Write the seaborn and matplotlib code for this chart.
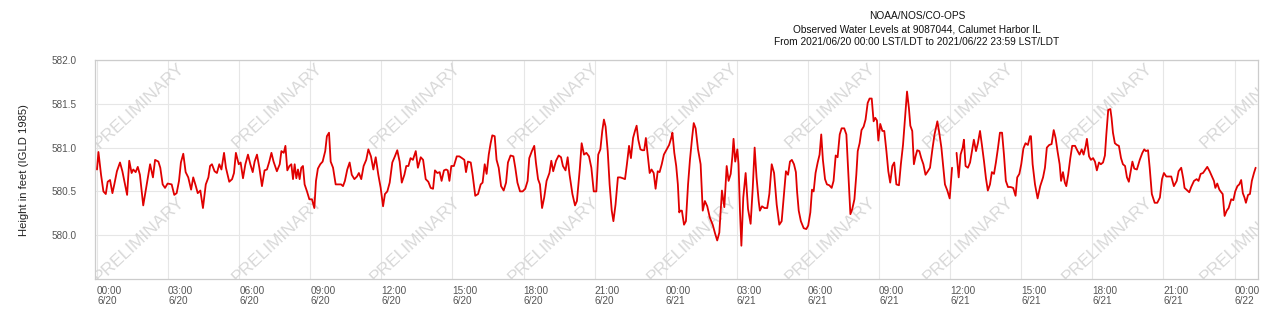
import numpy as np
import pandas as pd
import matplotlib
matplotlib.use("Agg")
import matplotlib.pyplot as plt
import seaborn as sns

# ---- data (hours since 2021-06-20 00:00 LST/LDT, water level in feet IGLD 1985) ----
hours = [
    0.00, 0.06, 0.17, 0.27, 0.37, 0.45, 0.55, 0.65, 0.73, 0.84, 0.97, 1.07, 1.18, 1.27, 1.36, 1.46,
    1.53, 1.63, 1.72, 1.81, 1.95, 2.10, 2.24, 2.36, 2.45, 2.59, 2.67, 2.77, 2.87, 2.98, 3.15, 3.26,
    3.36, 3.46, 3.54, 3.64, 3.74, 3.85, 3.97, 4.06, 4.16, 4.25, 4.36, 4.47, 4.59, 4.70, 4.77, 4.85,
    4.96, 5.06, 5.16, 5.25, 5.36, 5.44, 5.58, 5.70, 5.78, 5.86, 5.98, 6.06, 6.16, 6.26, 6.37, 6.47,
    6.57, 6.65, 6.75, 6.85, 6.96, 7.07, 7.17, 7.27, 7.36, 7.45, 7.59, 7.71, 7.78, 7.88, 7.95, 8.03,
    8.12, 8.20, 8.27, 8.34, 8.41, 8.48, 8.55, 8.62, 8.69, 8.76, 8.86, 8.96, 9.07, 9.17, 9.24, 9.32,
    9.42, 9.52, 9.63, 9.70, 9.79,
    9.86, 9.96, 10.07, 10.18, 10.30, 10.38, 10.46, 10.56, 10.66, 10.75, 10.86, 10.97, 11.05, 11.15,
    11.25, 11.36, 11.45, 11.56, 11.66, 11.76, 11.87, 11.97, 12.07, 12.15, 12.25, 12.35, 12.46, 12.57,
    12.67, 12.77, 12.86, 12.97, 13.05, 13.14, 13.23, 13.33, 13.45, 13.54, 13.66, 13.76, 13.87, 13.98,
    14.08, 14.18, 14.26, 14.36, 14.46, 14.54, 14.64, 14.73,
    14.80, 14.87, 14.95, 15.06, 15.18, 15.29, 15.40, 15.50, 15.57, 15.65, 15.77, 15.85, 15.96, 16.08,
    16.19, 16.27, 16.36, 16.44, 16.53, 16.61, 16.68, 16.78, 16.86, 16.95, 17.05, 17.16, 17.26, 17.34,
    17.45, 17.57, 17.65, 17.74, 17.85, 17.96, 18.07, 18.17, 18.24, 18.35, 18.45, 18.52, 18.61, 18.69,
    18.78, 18.87, 18.97, 19.09, 19.17, 19.25, 19.37, 19.48, 19.58, 19.66,
    19.77, 19.86, 19.94, 20.06, 20.17, 20.25, 20.37, 20.45, 20.55, 20.65, 20.76, 20.86, 20.96, 21.07,
    21.15, 21.24, 21.32, 21.39, 21.46, 21.55, 21.63, 21.72, 21.79, 21.88, 21.98, 22.08, 22.19, 22.28,
    22.36, 22.45, 22.53, 22.62, 22.70, 22.77, 22.84, 22.93, 23.01, 23.09, 23.16, 23.24, 23.32, 23.40,
    23.49, 23.57, 23.66, 23.74, 23.83, 23.92, 24.02, 24.14, 24.23, 24.28, 24.36, 24.44, 24.51, 24.57,
    24.60, 24.68, 24.77, 24.85, 24.94, 25.02, 25.11, 25.18, 25.26, 25.36, 25.47, 25.56, 25.65, 25.75,
    25.86, 25.98, 26.08, 26.17, 26.26, 26.37, 26.47, 26.57, 26.65, 26.74, 26.81, 26.86, 26.93, 27.02,
    27.07, 27.13, 27.19, 27.27, 27.37, 27.47, 27.58, 27.67, 27.75, 27.83, 27.92, 27.97, 28.06, 28.17,
    28.28, 28.37, 28.47, 28.57, 28.68, 28.79, 28.89, 28.99, 29.07, 29.16, 29.24, 29.32, 29.41, 29.49,
    29.54, 29.61, 29.70, 29.82, 29.93, 30.01, 30.10, 30.17, 30.24, 30.32, 30.41, 30.49, 30.56, 30.63,
    30.72, 30.80, 30.90, 31.00, 31.08, 31.17, 31.25, 31.34, 31.42, 31.53, 31.62, 31.70, 31.79, 31.87,
    31.96, 32.04, 32.10, 32.18, 32.26, 32.35, 32.43, 32.52, 32.60, 32.69, 32.77, 32.84, 32.91, 32.97,
    33.05, 33.14, 33.22, 33.31, 33.39, 33.47, 33.56, 33.64, 33.73, 33.84, 33.92, 34.01, 34.09, 34.18,
    34.26, 34.32, 34.40, 34.47,
    34.54, 34.61, 34.70, 34.78, 34.87, 34.96, 35.06, 35.15, 35.25, 35.34, 35.46, 35.54, 35.63, 35.71,
    35.78, 35.88, 35.98, 36.08, 36.17, 36.27, 36.36, 36.44, 36.53, 36.58, 36.65, 36.75, 36.84, 36.93,
    37.00, 37.09, 37.17, 37.26, 37.34, 37.43, 37.51, 37.59, 37.68, 37.76, 37.85, 37.93, 38.02, 38.10,
    38.19, 38.27, 38.35, 38.44, 38.55, 38.66, 38.76, 38.83, 38.92, 39.00, 39.09, 39.18, 39.28, 39.37,
    39.41, 39.48, 39.58, 39.69, 39.80, 39.92, 40.00, 40.08, 40.18, 40.28, 40.37, 40.45, 40.53, 40.62,
    40.68, 40.76, 40.84, 40.90, 40.98, 41.07, 41.15, 41.27, 41.38, 41.46, 41.55, 41.63, 41.72, 41.77,
    41.86, 41.94, 42.03, 42.11, 42.19, 42.28, 42.36, 42.45, 42.53, 42.59, 42.67, 42.76, 42.81, 42.87,
    42.95, 43.04, 43.12, 43.21, 43.29, 43.38, 43.46, 43.54, 43.63, 43.69, 43.77, 43.88, 44.00, 44.11,
    44.19, 44.26,
    44.35, 44.42, 44.51, 44.63, 44.74, 44.85, 44.94, 45.02, 45.12, 45.22, 45.33, 45.44, 45.56, 45.64,
    45.75, 45.84, 45.89, 46.01, 46.09, 46.17, 46.29, 46.40, 46.48, 46.57, 46.67, 46.77, 46.85, 46.95,
    47.05, 47.13, 47.19, 47.27, 47.36, 47.44, 47.50, 47.58, 47.67, 47.75, 47.86, 47.95, 48.03, 48.12,
    48.20, 48.28, 48.35, 48.42, 48.48, 48.57, 48.65, 48.73, 48.82, 48.89,
]

levels = [
    580.75, 580.95, 580.69, 580.50, 580.47, 580.61, 580.63, 580.48, 580.58, 580.73, 580.83, 580.73, 580.58, 580.46, 580.85, 580.71,
    580.75, 580.72, 580.78, 580.69, 580.34, 580.58, 580.81, 580.66, 580.86, 580.84, 580.77, 580.58, 580.54, 580.59, 580.58, 580.46,
    580.48, 580.62, 580.83, 580.93, 580.72, 580.66, 580.52, 580.66, 580.57, 580.48, 580.51, 580.31, 580.58, 580.66, 580.79, 580.81,
    580.73, 580.71, 580.81, 580.75, 580.94, 580.77, 580.61, 580.64, 580.71, 580.94, 580.81, 580.83, 580.65, 580.81, 580.92, 580.81,
    580.72, 580.84, 580.92, 580.77, 580.56, 580.74, 580.75, 580.84, 580.94, 580.84, 580.73, 580.81, 580.96, 580.94, 581.02, 580.74,
    580.79, 580.81, 580.64, 580.81, 580.65, 580.75, 580.64, 580.77, 580.79, 580.58, 580.50, 580.41, 580.41, 580.31, 580.62, 580.76,
    580.81, 580.84, 580.96, 581.13, 581.17,
    580.84, 580.77, 580.58, 580.58, 580.58, 580.56, 580.62, 580.75, 580.83, 580.69, 580.64, 580.67, 580.71, 580.64,
    580.79, 580.86, 580.98, 580.90, 580.75, 580.89, 580.69, 580.54, 580.33, 580.47, 580.50, 580.60, 580.83, 580.90,
    580.97, 580.84, 580.60, 580.69, 580.79, 580.79, 580.88, 580.86, 580.96, 580.77, 580.89, 580.86, 580.64, 580.61,
    580.54, 580.53, 580.74, 580.71, 580.72, 580.62, 580.74, 580.75,
    580.74, 580.62, 580.79, 580.79, 580.90, 580.90, 580.88, 580.86, 580.72, 580.84, 580.83, 580.69, 580.45, 580.47,
    580.58, 580.60, 580.81, 580.70, 580.92, 581.05, 581.14, 581.13, 580.86, 580.77, 580.56, 580.51, 580.60, 580.83,
    580.91, 580.90, 580.77, 580.60, 580.50, 580.50, 580.53, 580.62, 580.88, 580.96, 581.02, 580.83, 580.64, 580.58,
    580.31, 580.43, 580.62, 580.71, 580.85, 580.73, 580.85, 580.91, 580.89, 580.79,
    580.74, 580.89, 580.69, 580.47, 580.34, 580.39, 580.75, 581.05, 580.92, 580.94, 580.90, 580.77, 580.50, 580.50,
    580.92, 580.98, 581.19, 581.32, 581.24, 580.96, 580.58, 580.28, 580.16, 580.35, 580.66, 580.66, 580.65, 580.64,
    580.81, 581.02, 580.88, 581.11, 581.19, 581.25, 581.09, 580.98, 580.97, 580.97, 581.11, 580.91, 580.71, 580.75,
    580.71, 580.53, 580.73, 580.72, 580.81, 580.92, 580.97, 581.03, 581.11, 581.17, 580.94, 580.79, 580.58, 580.26,
    580.28, 580.28, 580.12, 580.16, 580.58, 580.86, 581.11, 581.28, 581.22, 580.98, 580.81, 580.28, 580.39, 580.33,
    580.20, 580.12, 580.02, 579.94, 580.03, 580.51, 580.32, 580.79, 580.62, 580.70, 580.90, 581.10, 580.84, 580.98,
    580.81, 580.28, 579.88, 580.43, 580.71, 580.30, 580.13, 580.54, 581.00, 580.66, 580.39, 580.28, 580.33, 580.31,
    580.31, 580.47, 580.81, 580.71, 580.35, 580.12, 580.16, 580.47, 580.73, 580.69, 580.84, 580.86, 580.81, 580.72,
    580.50, 580.28, 580.16, 580.08, 580.07, 580.11, 580.26, 580.52, 580.50, 580.71, 580.83, 580.92, 581.15, 580.86,
    580.64, 580.58, 580.57, 580.54, 580.62, 580.91, 580.89, 581.15, 581.22, 581.22, 581.15, 580.73, 580.24, 580.30,
    580.41, 580.69, 580.96, 581.05, 581.20, 581.24, 581.32, 581.51, 581.56, 581.56, 581.30, 581.34, 581.31, 581.08,
    581.27, 581.19, 581.19, 580.96, 580.73, 580.60, 580.79, 580.83, 580.58, 580.57, 580.81, 581.03, 581.32, 581.64,
    581.45, 581.25, 581.19, 580.81,
    580.90, 580.97, 580.96, 580.88, 580.81, 580.69, 580.73, 580.77, 580.98, 581.15, 581.30, 581.17, 581.00, 580.77,
    580.58, 580.51, 580.42, 580.77, np.nan, 580.94, 580.66, 580.92, 581.00, 581.09, 580.79, 580.77, 580.83, 580.98,
    581.09, 580.96, 581.05, 581.19, 581.03, 580.84, 580.65, 580.51, 580.58, 580.72, 580.70, 580.83, 581.00, 581.17,
    581.17, 580.92, 580.62, 580.55, 580.55, 580.54, 580.45, 580.66, 580.70, 580.81, 580.99, 581.05, 581.03, 581.13,
    581.13, 580.81, 580.58, 580.42, 580.56, 580.66, 580.77, 581.00, 581.03, 581.04, 581.20, 581.11, 580.96, 580.81,
    580.62, 580.72, 580.60, 580.56, 580.69, 580.88, 581.02, 581.02, 580.96, 580.92, 580.98, 580.92, 581.02, 581.10,
    580.90, 580.86, 580.88, 580.84, 580.74, 580.83, 580.81, 580.83, 580.91, 581.15, 581.43, 581.44, 581.34, 581.17,
    581.05, 581.03, 581.02, 580.88, 580.81, 580.79, 580.66, 580.61, 580.75, 580.84, 580.76, 580.75, 580.86, 580.94,
    580.98, 580.96,
    580.97, 580.77, 580.47, 580.37, 580.37, 580.43, 580.64, 580.71, 580.67, 580.67, 580.67, 580.56, 580.62, 580.73,
    580.77, 580.64, 580.54, 580.51, 580.49, 580.55, 580.62, 580.64, 580.62, 580.70, 580.71, 580.75, 580.78, 580.73,
    580.67, 580.62, 580.54, 580.59, 580.52, 580.49, 580.47, 580.22, 580.28, 580.31, 580.41, 580.40, 580.50, 580.56,
    580.58, 580.63, 580.48, 580.43, 580.37, 580.46, 580.47, 580.62, 580.71, 580.77,
]

tick_hours = [0, 3, 6, 9, 12, 15, 18, 21, 24, 27, 30, 33, 36, 39, 42, 45, 48]
tick_labels = [
    "00:00\n6/20", "03:00\n6/20", "06:00\n6/20", "09:00\n6/20", "12:00\n6/20", "15:00\n6/20",
    "18:00\n6/20", "21:00\n6/20", "00:00\n6/21", "03:00\n6/21", "06:00\n6/21", "09:00\n6/21",
    "12:00\n6/21", "15:00\n6/21", "18:00\n6/21", "21:00\n6/21", "00:00\n6/22",
]
y_ticks = [580.0, 580.5, 581.0, 581.5, 582.0]
title_lines = [
    "NOAA/NOS/CO-OPS",
    "Observed Water Levels at 9087044, Calumet Harbor IL",
    "From 2021/06/20 00:00 LST/LDT to 2021/06/22 23:59 LST/LDT",
]
y_label = "Height in feet (IGLD 1985)"
watermark = "PRELIMINARY"

# ---- styling ----
sns.set_theme(style="white")
plt.rcParams["font.family"] = ["Liberation Sans", "DejaVu Sans"]

df = pd.DataFrame({"hour": hours, "level": levels})
df["seg"] = df["level"].isna().cumsum()
df = df.dropna().reset_index(drop=True)

fig = plt.figure(figsize=(12.68, 3.20), dpi=100)
ax = fig.add_axes([95 / 1268, 41 / 320, 1163 / 1268, 219 / 320])

sns.lineplot(data=df, x="hour", y="level", units="seg", estimator=None,
             color="#e00000", linewidth=1.3, ax=ax, zorder=3, legend=False)

ax.set_xlim(-0.085, 48.99)
ax.set_ylim(579.5, 582.0)

ax.set_xticks(tick_hours)
ax.set_xticklabels(tick_labels, ha="left", fontsize=7.2, color="#555555")
for lbl in ax.get_xticklabels():
    lbl.set_linespacing(1.05)
ax.set_yticks(y_ticks)
ax.set_yticklabels([f"{v:.1f}" for v in y_ticks], fontsize=7.2, color="#555555")
ax.tick_params(axis="x", length=0, pad=5)
ax.tick_params(axis="y", length=0, pad=13)

ax.grid(True, color="#e6e6e6", linewidth=0.8, zorder=0)
ax.set_axisbelow(True)
for s in ax.spines.values():
    s.set_color("#cccccc")
    s.set_linewidth(0.9)
ax.set_xlabel("")
ax.set_ylabel("")

# watermark grid
for k in range(9):
    xf = 0.0378 + k * 0.1189
    for yf in (0.79, 0.18):
        ax.text(xf, yf, watermark, transform=ax.transAxes, rotation=43,
                ha="center", va="center", fontsize=12.5, color="#d4d4d4",
                alpha=0.9, zorder=1, clip_on=True, rotation_mode="anchor")

# titles
for i, (line, yy) in enumerate(zip(title_lines, [15.7, 29.0, 41.7])):
    fig.text(917 / 1268, 1 - yy / 320, line, ha="center", va="center",
             fontsize=7.3, color="#111111")

fig.text(24 / 1268, 1 - 170 / 320, y_label, rotation=90, ha="center",
         va="center", fontsize=8.1, color="#222222")

fig.savefig("out.png", dpi=100)
